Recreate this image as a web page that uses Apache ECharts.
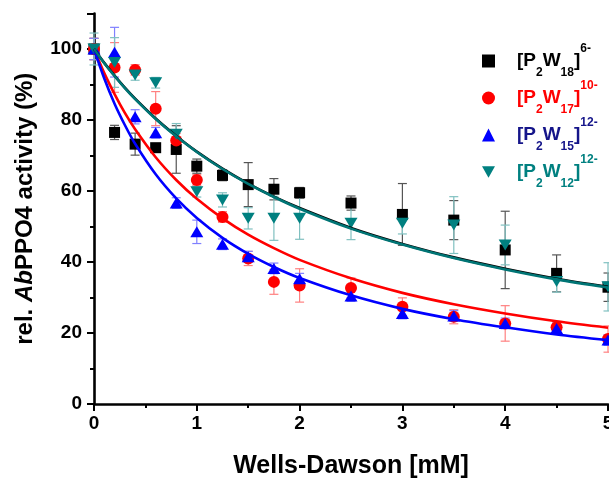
<!DOCTYPE html>
<html><head><meta charset="utf-8">
<script src="https://cdn.jsdelivr.net/npm/echarts@6/dist/echarts.min.js"></script>
<style>html,body{margin:0;padding:0;background:#fff}#c{width:609px;height:479px}</style>
</head><body><div id="c"></div>
<script>
// concentrations (mM)
const conc = [0, 0.2, 0.4, 0.6, 0.8, 1, 1.25, 1.5, 1.75, 2, 2.5, 3, 3.5, 4, 4.5, 5];
// measured relative activity (%)
const w18 = [100, 76.5, 73.2, 72.2, 71.7, 67.0, 64.4, 61.8, 60.5, 59.5, 56.6, 53.4, 51.8, 43.4, 36.8, 32.9];
const w17 = [100, 94.8, 94.1, 83.2, 74.2, 63.1, 52.7, 41.0, 34.4, 33.4, 32.7, 27.4, 24.6, 22.7, 21.6, 18.3];
const w15 = [100, 99.1, 80.9, 76.4, 56.6, 48.5, 45.0, 41.5, 38.2, 35.3, 30.4, 25.5, 24.8, 22.7, 21.3, 18.0];
const w12 = [100, 96.2, 92.7, 90.5, 76.0, 59.8, 57.5, 52.3, 52.3, 52.3, 50.9, 50.9, 50.4, 44.8, 34.5, 33.0];
// error bars (±)
const w18Err = [3, 2, 3.1, 1, 6.7, 2, 1.5, 6.2, 3, 1.5, 2, 8.7, 5.5, 10.9, 5.2, 4];
const w17Err = [3, 7, 1.5, 4.8, 2, 1.5, 1.5, 2, 3.5, 4.7, 2.8, 2.5, 2, 5, 1.5, 3.7];
const w15Err = [3, 7, 2, 1.5, 1.5, 3.3, 1.5, 1.5, 1.5, 1.5, 1.5, 1.5, 1.5, 1.5, 1.5, 1.5];
const w12Err = [4.5, 7, 1.5, 1.5, 3, 1.5, 2, 3, 6.2, 5.9, 4.6, 3, 8, 5.6, 3, 6.8];
// fitted curves
const fitX = [0, 0.1, 0.2, 0.3, 0.4, 0.6, 0.8, 1, 1.25, 1.5, 1.75, 2, 2.5, 3, 3.5, 4, 4.5, 5];
const fit18 = [100, 96.1, 92.5, 89.1, 86.0, 80.4, 75.5, 71.1, 66.3, 62.1, 58.4, 55.2, 49.6, 45.1, 41.3, 38.1, 35.3, 33.0];
const fit12 = [100, 96.0, 92.4, 89.0, 85.9, 80.3, 75.4, 71.0, 66.2, 62.0, 58.3, 55.0, 49.4, 44.9, 41.1, 37.9, 35.1, 32.8];
const fit17 = [100, 93.2, 87.3, 82.0, 77.4, 69.5, 63.1, 57.8, 52.3, 47.7, 43.9, 40.6, 35.4, 31.3, 28.1, 25.5, 23.3, 21.5];
const fit15 = [100, 91.7, 84.6, 78.6, 73.3, 64.7, 57.9, 52.4, 46.8, 42.3, 38.6, 35.5, 30.6, 26.8, 23.9, 21.6, 19.6, 18.0];

const FONT = "'Liberation Sans', Arial, sans-serif";
const pts = (ys) => conc.map((x, i) => [x, ys[i]]);
const errPts = (ys, es) => conc.map((x, i) => [x, ys[i], es[i]]);
const fitPts = (ys) => fitX.map((x, i) => [x, ys[i]]);

function errSeries(ys, es, color) {
  return {
    type: 'custom', z: 1, silent: true, clip: false,
    data: errPts(ys, es),
    renderItem: function (params, api) {
      const x = api.value(0), y = api.value(1), e = api.value(2);
      const t = api.coord([x, y + e]), b = api.coord([x, y - e]);
      const w = 4.5;
      const st = { stroke: color, lineWidth: 1.2 };
      return { type: 'group', children: [
        { type: 'line', shape: { x1: t[0], y1: t[1], x2: b[0], y2: b[1] }, style: st },
        { type: 'line', shape: { x1: t[0] - w, y1: t[1], x2: t[0] + w, y2: t[1] }, style: st },
        { type: 'line', shape: { x1: b[0] - w, y1: b[1], x2: b[0] + w, y2: b[1] }, style: st }
      ] };
    }
  };
}
function scatter(name, ys, color, symbol, size) {
  return { name: name, type: 'scatter', z: 2, clip: false, symbol: symbol, symbolSize: size,
    itemStyle: { color: color, opacity: 1 }, data: pts(ys) };
}
function fit(ys, color) {
  return { type: 'line', z: 3, smooth: 0.3, showSymbol: false, symbol: 'none', silent: true,
    lineStyle: { color: color, width: 2.6 }, data: fitPts(ys) };
}
function rich(color) {
  return {
    g: { width: 17 },
    m: { fontSize: 19, fontWeight: 'bold', fontFamily: FONT, color: color, lineHeight: 36, verticalAlign: 'middle' },
    s: { fontSize: 12, fontWeight: 'bold', fontFamily: FONT, color: color, lineHeight: 20, verticalAlign: 'bottom' },
    u: { fontSize: 12, fontWeight: 'bold', fontFamily: FONT, color: color, lineHeight: 20, verticalAlign: 'top' }
  };
}
const legendText = {
  'W18': '{g| }{m|[P}{s|2}{m|W}{s|18}{m|]}{u|6-}',
  'W17': '{g| }{m|[P}{s|2}{m|W}{s|17}{m|]}{u|10-}',
  'W15': '{g| }{m|[P}{s|2}{m|W}{s|15}{m|]}{u|12-}',
  'W12': '{g| }{m|[P}{s|2}{m|W}{s|12}{m|]}{u|12-}'
};
const DOWN = 'path://M0,0 L12,0 L6,10.4 Z';

const chart = echarts.init(document.getElementById('c'), null, { renderer: 'canvas' });
chart.setOption({
  animation: false,
  backgroundColor: '#fff',
  grid: { left: 94, right: 1, top: 13.5, bottom: 75, containLabel: false, outerBoundsMode: 'none' },
  xAxis: {
    type: 'value', min: 0, max: 5, interval: 1,
    name: 'Wells-Dawson [mM]', nameLocation: 'middle', nameGap: 50,
    nameTextStyle: { fontSize: 25, fontWeight: 'bold', fontFamily: FONT, color: '#000' },
    axisLine: { show: true, onZero: false, lineStyle: { color: '#000', width: 2.6 } },
    axisTick: { show: true, inside: false, length: 7, lineStyle: { color: '#000', width: 2 } },
    minorTick: { show: true, splitNumber: 2, length: 4, lineStyle: { color: '#000', width: 2 } },
    splitLine: { show: false },
    axisLabel: { margin: 10, fontSize: 19, fontWeight: 'bold', fontFamily: FONT, color: '#000' }
  },
  yAxis: {
    type: 'value', min: 0, max: 110, interval: 20,
    name: '{n|rel. }{i|Ab}{n|PPO4 activity (%)}', nameLocation: 'middle', nameGap: 57, nameRotate: 90,
    nameTextStyle: { fontSize: 24, fontWeight: 'bold', fontFamily: FONT, color: '#000',
      rich: { n: { fontSize: 24, fontWeight: 'bold', fontFamily: FONT, color: '#000' },
              i: { fontSize: 24, fontWeight: 'bold', fontStyle: 'italic', fontFamily: FONT, color: '#000' } } },
    axisLine: { show: true, onZero: false, lineStyle: { color: '#000', width: 2.6 } },
    axisTick: { show: true, inside: false, length: 7, lineStyle: { color: '#000', width: 2 } },
    minorTick: { show: true, splitNumber: 2, length: 4, lineStyle: { color: '#000', width: 2 } },
    splitLine: { show: false },
    axisLabel: { margin: 12, fontSize: 19, fontWeight: 'bold', fontFamily: FONT, color: '#000',
      showMaxLabel: false, formatter: (v) => (v > 100 ? '' : String(v)) }
  },
  legend: {
    orient: 'vertical', left: 477, top: 38, itemGap: 1, itemWidth: 13, itemHeight: 13,
    selectedMode: false,
    formatter: (n) => legendText[n],
    data: [
      { name: 'W18', icon: 'rect', itemStyle: { color: '#000' }, textStyle: { rich: rich('#000') } },
      { name: 'W17', icon: 'circle', itemStyle: { color: '#ff0000' }, textStyle: { rich: rich('#ff0000') } },
      { name: 'W15', icon: 'triangle', itemStyle: { color: '#0000ff' }, textStyle: { rich: rich('#15158a') } },
      { name: 'W12', icon: DOWN, itemStyle: { color: '#008080' }, textStyle: { rich: rich('#008080') } }
    ]
  },
  series: [
    errSeries(w18, w18Err, '#555555'),
    errSeries(w17, w17Err, '#ff8080'),
    errSeries(w15, w15Err, '#8080ff'),
    errSeries(w12, w12Err, '#80c0c0'),
    scatter('W18', w18, '#000000', 'rect', 11),
    scatter('W17', w17, '#ff0000', 'circle', 12),
    scatter('W15', w15, '#0000ff', 'triangle', [13, 11]),
    scatter('W12', w12, '#008080', DOWN, [13, 11]),
    fit(fit17, '#ff0000'),
    fit(fit15, '#0000ff'),
    fit(fit18, '#000000'),
    fit(fit12, '#007575')
  ]
});
</script></body></html>
